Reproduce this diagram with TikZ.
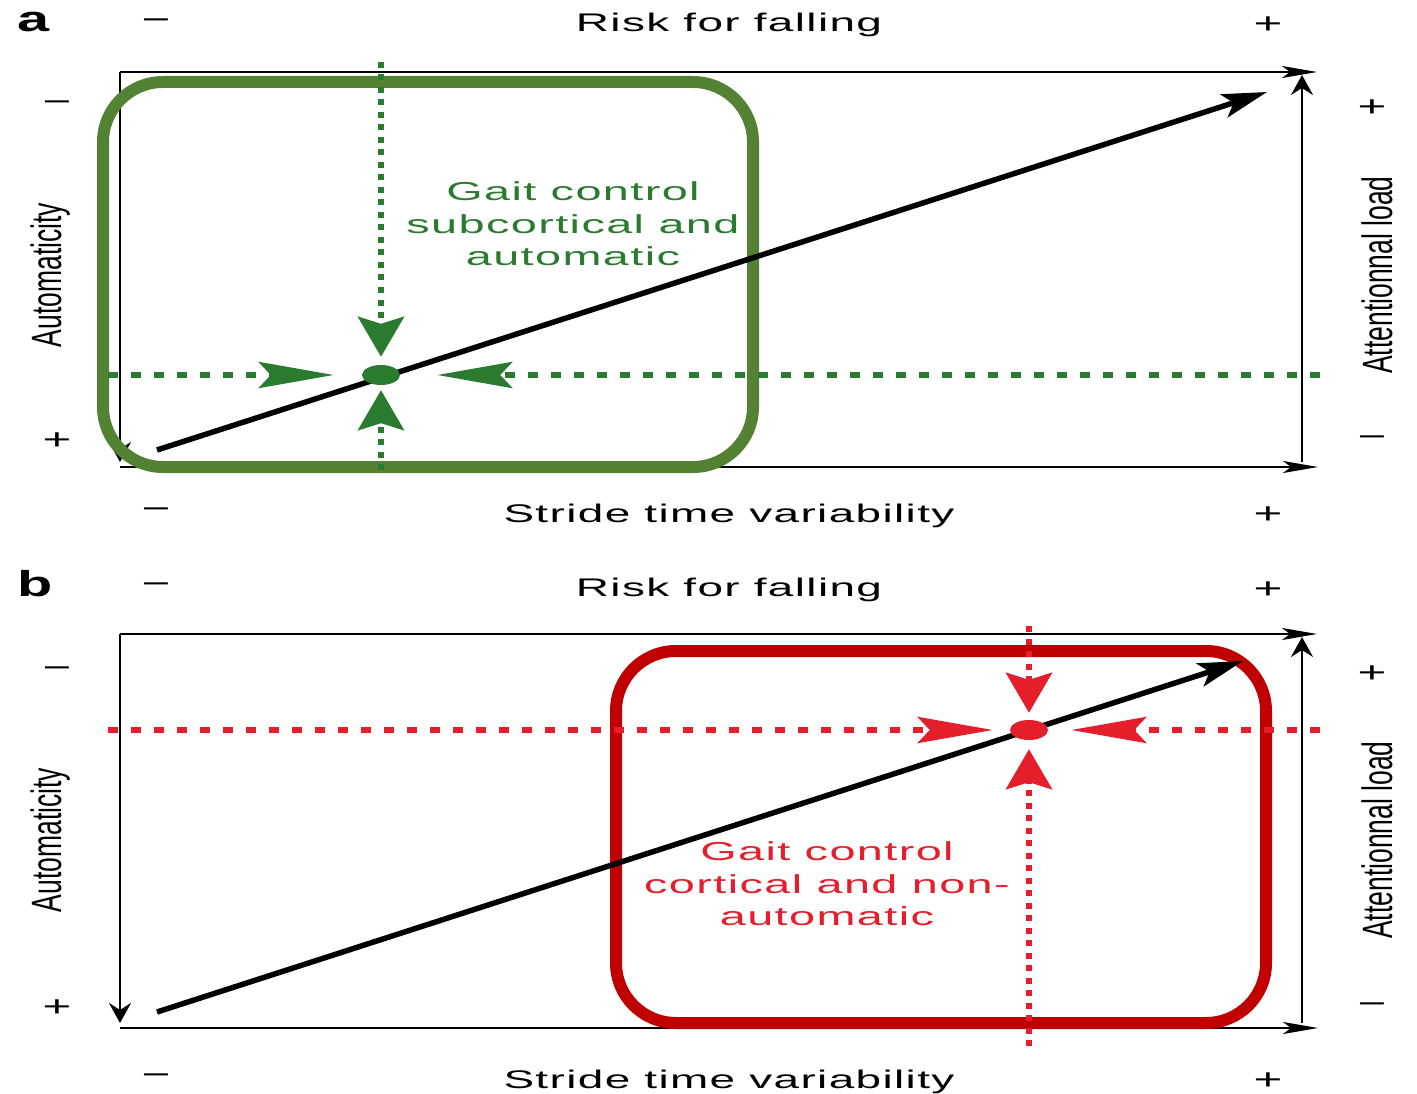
\documentclass[tikz,border=0pt]{standalone}
\usepackage{fontspec}
\setmainfont{Liberation Sans}
\newfontfamily\widesans[LetterSpace=3]{Liberation Sans}
\usepackage{xcolor}
\usetikzlibrary{arrows.meta, shapes.geometric, positioning}
\definecolor{boxgreen}{HTML}{548235}
\definecolor{dotgreen}{HTML}{2A7B30}
\definecolor{boxred}{HTML}{C00000}
\definecolor{dotred}{HTML}{E41E2B}

\begin{document}
\begin{tikzpicture}[x=1pt, y=-1pt]
\tikzstyle{axislabel} = [font=\widesans\fontsize{25.5}{30}\selectfont, xscale=1.8, inner sep=0pt, anchor=base]
\tikzstyle{sign} = [font=\fontsize{29}{30}\selectfont, xscale=1.7, inner sep=0pt]
\tikzstyle{sidelabel} = [font=\fontsize{26.5}{30}\selectfont, rotate=90, yscale=1.6, anchor=base, inner sep=0pt]
\tikzstyle{panel} = [font=\bfseries\fontsize{36}{40}\selectfont, xscale=1.6, inner sep=0pt, anchor=base west]
\tikzstyle{hline} = [draw, line width=2.5pt, -{Stealth[length=35pt, width=12pt, inset=8pt]}]
\tikzstyle{vline} = [draw, line width=2.5pt, -{Stealth[length=20pt, width=22pt, inset=7pt]}]
\tikzstyle{trend} = [draw, line width=5.5pt, -{Stealth[length=45pt, width=24pt, inset=10pt]}]
\tikzstyle{hpoint} = [-{Stealth[length=75pt, width=26pt, inset=12pt]}]
\tikzstyle{vpoint} = [-{Stealth[length=40pt, width=46pt, inset=7pt]}]
\tikzstyle{hdash} = [line width=6pt, dash pattern=on 10pt off 13pt]
\tikzstyle{vdash} = [line width=6pt, dash pattern=on 6pt off 6.5pt]
\tikzstyle{spot} = [ellipse, minimum width=38pt, minimum height=20pt, inner sep=0pt]
\tikzstyle{gait} = [font=\widesans\fontsize{26}{32.5}\selectfont, xscale=1.8, align=center, inner sep=0pt]
\useasboundingbox (0,0) rectangle (1417,1094);

% panel a
\node [panel] (alabel) at (17,32) {a};
\node [axislabel] (arisk) at (729,32) {Risk for falling};
\node [sign] (arisklo) at (156,24) {−};
\node [sign] (ariskhi) at (1268,25) {+};
\node [axislabel] (astride) at (729,522) {Stride time variability};
\node [sign] (astridelo) at (156,513) {−};
\node [sign] (astridehi) at (1268,515) {+};
\node [sidelabel] (aauto) at (61,275) {Automaticity};
\node [sign] (aautolo) at (57,106) {−};
\node [sign] (aautohi) at (57,441) {+};
\node [sidelabel] (aatt) at (1392,275) {Attentionnal load};
\node [sign] (aatthi) at (1372,108) {+};
\node [sign] (aattlo) at (1372,441) {−};

\coordinate (aTL) at (120,72);
\coordinate (aTR) at (1317,72);
\coordinate (aBL) at (120,467);
\coordinate (aBR) at (1318,467);
\coordinate (aLE) at (120,462);
\coordinate (aRS) at (1302,462);
\coordinate (aRE) at (1302,75);
\path [hline] (aTL) -- (aTR);
\path [hline] (aBL) -- (aBR);
\path [vline] (aTL) -- (aLE);
\path [vline] (aRS) -- (aRE);

\draw [boxgreen, line width=12pt, rounded corners=60pt] (103,82) rectangle (753,467);
\coordinate (atail) at (157,450);
\coordinate (ahead) at (1267,92);
\path [trend] (atail) -- (ahead);

\node [spot, fill=dotgreen] (adot) at (381,375) {};
\coordinate (aW) at (108,375);
\coordinate (aE) at (1320,375);
\coordinate (aN) at (381,62);
\coordinate (aS) at (381,470);
\draw [dotgreen, hdash, hpoint, shorten >=28pt] (aW) -- (adot.west);
\draw [dotgreen, hdash, hpoint, shorten >=37pt] (aE) -- (adot.east);
\draw [dotgreen, vdash, vpoint, shorten >=8pt] (aN) -- (adot.north);
\draw [dotgreen, vdash, vpoint, shorten >=5pt] (aS) -- (adot.south);
\node [gait, text=dotgreen] (atext) at (573,224) {Gait control\\subcortical and\\automatic};

% panel b
\node [panel] (blabel) at (17,596) {b};
\node [axislabel] (brisk) at (729,596) {Risk for falling};
\node [sign] (brisklo) at (156,588) {−};
\node [sign] (briskhi) at (1268,590) {+};
\node [axislabel] (bstride) at (729,1088) {Stride time variability};
\node [sign] (bstridelo) at (156,1079) {−};
\node [sign] (bstridehi) at (1268,1081) {+};
\node [sidelabel] (bauto) at (61,840) {Automaticity};
\node [sign] (bautolo) at (57,672) {−};
\node [sign] (bautohi) at (57,1008) {+};
\node [sidelabel] (batt) at (1392,840) {Attentionnal load};
\node [sign] (batthi) at (1372,674) {+};
\node [sign] (battlo) at (1372,1008) {−};

\coordinate (bTL) at (120,634);
\coordinate (bTR) at (1317,634);
\coordinate (bBL) at (120,1028);
\coordinate (bBR) at (1318,1028);
\coordinate (bLE) at (120,1023);
\coordinate (bRS) at (1302,1023);
\coordinate (bRE) at (1302,637);
\path [hline] (bTL) -- (bTR);
\path [hline] (bBL) -- (bBR);
\path [vline] (bTL) -- (bLE);
\path [vline] (bRS) -- (bRE);

\draw [boxred, line width=12pt, rounded corners=60pt] (616,651) rectangle (1266,1023);
\coordinate (btail) at (157,1012);
\coordinate (bhead) at (1243,661);
\path [trend] (btail) -- (bhead);

\node [spot, fill=dotred] (bdot) at (1029,730) {};
\coordinate (bW) at (108,730);
\coordinate (bE) at (1320,730);
\coordinate (bN) at (1029,626);
\coordinate (bS) at (1029,1046);
\draw [dotred, hdash, hpoint, shorten >=17pt] (bW) -- (bdot.west);
\draw [dotred, hdash, hpoint, shorten >=23pt] (bE) -- (bdot.east);
\draw [dotred, vdash, vpoint, shorten >=7pt] (bN) -- (bdot.north);
\draw [dotred, vdash, vpoint, shorten >=9pt] (bS) -- (bdot.south);
\node [gait, text=dotred] (btext) at (827,884) {Gait control\\cortical and non-\\automatic};
\end{tikzpicture}
\end{document}
